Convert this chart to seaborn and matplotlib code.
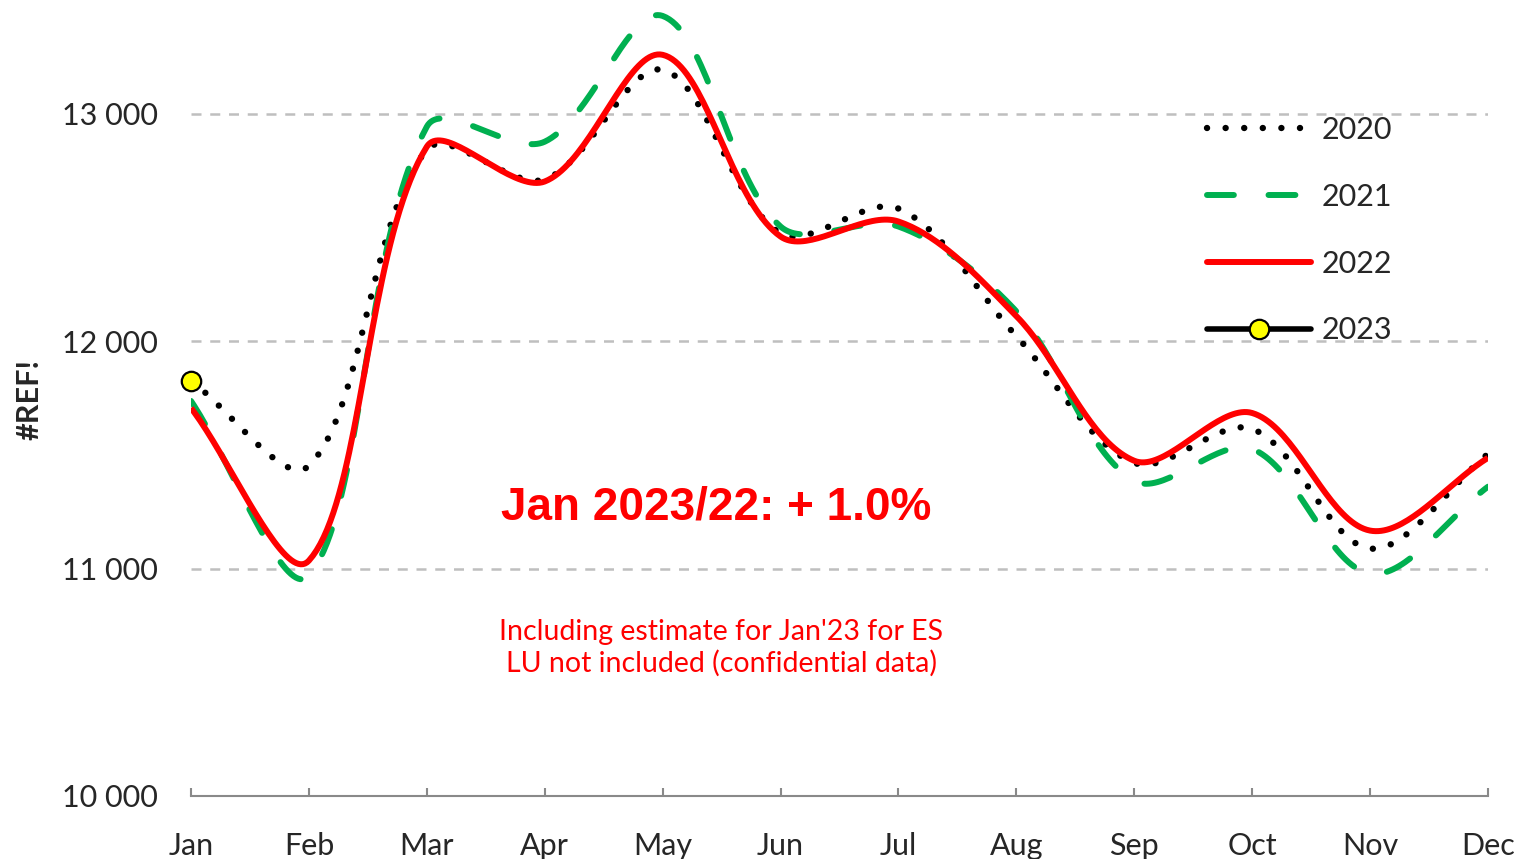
import numpy as np
import pandas as pd
import matplotlib
matplotlib.use("Agg")
import matplotlib.pyplot as plt
from matplotlib.lines import Line2D
import seaborn as sns

months = ["Jan", "Feb", "Mar", "Apr", "May", "Jun", "Jul", "Aug", "Sep", "Oct", "Nov", "Dec"]
v2020 = [11825, 11452, 12842, 12711, 13193, 12474, 12583, 12022, 11465, 11614, 11088, 11504]
v2021 = [11737, 10969, 12943, 12877, 13430, 12504, 12504, 12131, 11386, 11526, 10978, 11360]
v2022 = [11706, 11035, 12855, 12702, 13259, 12460, 12526, 12110, 11474, 11684, 11167, 11487]
v2023 = [11825]
years = ["2020", "2021", "2022", "2023"]
annotation = "Jan 2023/22: + 1.0%"
note = "Including estimate for Jan'23 for ES\nLU not included (confidential data)"
ylabel = "#REF!"
yticks = [10000, 11000, 12000, 13000]

# screen scale used only to shape the smoothing like a spreadsheet's smoothed line
SX, SY = 117.9, 0.228


def smooth(values, n=40):
    """Spreadsheet-style smoothed line: cubic Bezier segments through every point."""
    y = np.asarray(values, dtype=float)
    x = np.arange(len(y), dtype=float)
    P = np.column_stack([x * SX, y * SY])
    k = len(P)
    cout = np.zeros_like(P)
    cin = np.zeros_like(P)
    for i in range(k):
        if i == 0:
            cout[i] = P[0] + (P[1] - P[0]) / 3.0
            continue
        if i == k - 1:
            cin[i] = P[i] - (P[i] - P[i - 1]) / 3.0
            continue
        d1 = np.linalg.norm(P[i] - P[i - 1])
        d2 = np.linalg.norm(P[i + 1] - P[i])
        T = P[i + 1] - P[i - 1]
        cout[i] = P[i] + T * (d2 / (d1 + d2)) / 3.0
        cin[i] = P[i] - T * (d1 / (d1 + d2)) / 3.0
    pts = []
    for i in range(k - 1):
        t = np.linspace(0, 1, n, endpoint=(i == k - 2))[:, None]
        b = ((1 - t) ** 3 * P[i] + 3 * (1 - t) ** 2 * t * cout[i]
             + 3 * (1 - t) * t ** 2 * cin[i + 1] + t ** 3 * P[i + 1])
        pts.append(b)
    pts = np.vstack(pts)
    return pd.DataFrame({"x": pts[:, 0] / SX, "y": pts[:, 1] / SY})


sns.set_theme(style="white")
plt.rcParams["font.family"] = ["Lato", "DejaVu Sans"]

fig = plt.figure(figsize=(15.26, 8.59), dpi=100)
ax = fig.add_axes([191 / 1526, 1 - 796 / 859, (1488 - 191) / 1526, 796 / 859])

gray_grid = "#BFBFBF"
for yv in yticks[1:]:
    ax.axhline(yv, color=gray_grid, lw=1.8, dashes=(4, 3.5), zorder=1)

green = "#00B050"
red = "#FF0000"
dot_lw = 4.6
dot_dash = (0.01, 2.9)
green_dash = (4.5, 5.8)

d20 = smooth(v2020)
sns.lineplot(data=d20, x="x", y="y", ax=ax, sort=False, estimator=None,
             color="black", lw=dot_lw, zorder=2)
ax.lines[-1].set_dashes(dot_dash)
ax.lines[-1].set_dash_capstyle("round")

d21 = smooth(v2021)
sns.lineplot(data=d21, x="x", y="y", ax=ax, sort=False, estimator=None,
             color=green, lw=4.3, zorder=3)
ax.lines[-1].set_dashes(green_dash)
ax.lines[-1].set_dash_capstyle("round")

d22 = smooth(v2022)
sns.lineplot(data=d22, x="x", y="y", ax=ax, sort=False, estimator=None,
             color=red, lw=4.3, zorder=4)
ax.lines[-1].set_solid_capstyle("butt")

d23 = pd.DataFrame({"x": np.arange(len(v2023)), "y": v2023})
sns.lineplot(data=d23, x="x", y="y", ax=ax, color="black", lw=4, marker="o",
             markersize=14, markerfacecolor="#FFFF00", markeredgecolor="black",
             markeredgewidth=1.6, zorder=6, clip_on=False)

ax.set_xlim(0, 11)
ax.set_ylim(10000, 13500)
ax.set_xticks(range(12))
ax.set_xticklabels(months)
ax.set_yticks(yticks)
ax.set_yticklabels([f"{v // 1000} {v % 1000:03d}" for v in yticks])
ax.tick_params(axis="x", direction="in", length=6, width=1.5, color="#898989",
               labelsize=22, pad=26, bottom=True)
ax.tick_params(axis="y", length=0, labelsize=22, pad=24)
for s in ["top", "right", "left"]:
    ax.spines[s].set_visible(False)
ax.spines["bottom"].set_color("#898989")
ax.spines["bottom"].set_linewidth(1.5)
ax.set_xlabel("")
ax.set_ylabel("")
ax.grid(False)

fig.text(30 / 1526, 1 - 400 / 859, ylabel, rotation=90, ha="center", va="center",
         fontsize=22, fontweight="bold")

fig.text(716 / 1526, 1 - 507 / 859, annotation, ha="center", va="center",
         fontsize=33, fontweight="bold", color=red, family=["Liberation Sans"])
fig.text(721 / 1526, 1 - 648 / 859, note, ha="center", va="center",
         fontsize=20.5, color=red, linespacing=1.2)

handles = [
    Line2D([], [], color="black", lw=dot_lw, dashes=dot_dash, dash_capstyle="round"),
    Line2D([], [], color=green, lw=4.3, dashes=green_dash, dash_capstyle="round"),
    Line2D([], [], color=red, lw=4.3, solid_capstyle="round"),
    Line2D([], [], color="black", lw=4, marker="o", markersize=14,
           markerfacecolor="#FFFF00", markeredgecolor="black", markeredgewidth=1.6,
           solid_capstyle="round"),
]
leg = ax.legend(handles, years, loc="upper left", bbox_to_anchor=(1207 / 1526, 1 - 116 / 859),
                bbox_transform=fig.transFigure, frameon=False, fontsize=22,
                handlelength=3.4, handletextpad=0.35, labelspacing=1.27,
                borderpad=0, borderaxespad=0)

fig.savefig("out.png", dpi=100)
